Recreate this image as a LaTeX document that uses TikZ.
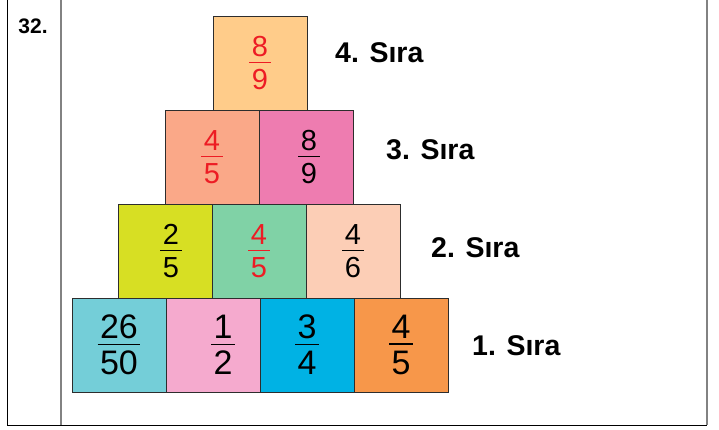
\documentclass[tikz,border=0pt]{standalone}
\usepackage{fontspec}
\setmainfont{Liberation Sans}
\usetikzlibrary{positioning}
\definecolor{BoxLine}{RGB}{45,45,45}
\definecolor{FrameGray}{RGB}{130,130,130}
\definecolor{AnsRed}{RGB}{237,28,36}
\definecolor{TopOrange}{RGB}{255,204,138}
\definecolor{Salmon}{RGB}{250,168,136}
\definecolor{RosePink}{RGB}{238,124,176}
\definecolor{Lime}{RGB}{215,223,35}
\definecolor{Mint}{RGB}{128,210,166}
\definecolor{Peach}{RGB}{252,206,182}
\definecolor{Aqua}{RGB}{116,206,216}
\definecolor{Candy}{RGB}{245,170,206}
\definecolor{Sky}{RGB}{0,178,228}
\definecolor{Tangerine}{RGB}{247,151,74}

% stacked fraction: numerator, bar, denominator
\newcommand{\frc}[2]{%
  {\renewcommand{\arraystretch}{0}\setlength{\arrayrulewidth}{1.6pt}%
  \begin{tabular}{@{\hspace{2.5pt}}c@{\hspace{2.5pt}}}
    #1\rule[-5pt]{0pt}{5pt}\\ \hline
    \rule{0pt}{\dimexpr 0.72em+5pt\relax}#2
  \end{tabular}}}

\begin{document}
\begin{tikzpicture}[x=1pt, y=-1pt,
    box/.style={draw=BoxLine, line width=0.9pt, minimum width=94pt,
                minimum height=94pt, inner sep=0pt,
                font=\fontsize{29}{30}\selectfont},
    big/.style={font=\fontsize{34}{36}\selectfont},
    ans/.style={text=AnsRed},
    sira/.style={anchor=west, inner sep=0pt,
                 font=\bfseries\fontsize{28.5}{30}\selectfont}
  ]
  \useasboundingbox (0,0) rectangle (719,429);

  % frame
  \draw[FrameGray, line width=1.6pt] (61,0) -- (61,425);
  \draw[FrameGray, line width=1.6pt] (707,0) -- (707,425);
  \draw[black, line width=1pt] (7.5,0) -- (7.5,425) -- (707,425);
  \node[inner sep=0pt, font=\bfseries\fontsize{21}{22}\selectfont]
    (q32) at (33,26) {32.};

  % 1. row
  \node[box, big, fill=Aqua]      (b11) at (119,345) {\frc{26}{50}};
  \node[box, big, fill=Candy]     (b12) at (213,345) {\hspace*{20pt}\frc{1}{2}};
  \node[box, big, fill=Sky]       (b13) at (307,345) {\frc{3}{4}};
  \node[box, big, fill=Tangerine] (b14) at (401,345) {\frc{4}{5}};

  % 2. row
  \node[box, fill=Lime]           (b21) at (165,251) {\hspace*{12pt}\frc{2}{5}};
  \node[box, ans, fill=Mint]      (b22) at (259,251) {\frc{4}{5}};
  \node[box, fill=Peach]          (b23) at (353,251) {\frc{4}{6}};

  % 3. row
  \node[box, ans, fill=Salmon]    (b31) at (212,157) {\frc{4}{5}};
  \node[box, fill=RosePink]       (b32) at (306,157) {\hspace*{6pt}\frc{8}{9}};

  % 4. row
  \node[box, ans, fill=TopOrange] (b41) at (260,63)  {\frc{8}{9}};

  \node[sira] (s4) at (335,53)  {4. Sıra};
  \node[sira] (s3) at (386,150) {3. Sıra};
  \node[sira] (s2) at (431,248) {2. Sıra};
  \node[sira] (s1) at (472,346) {1. Sıra};
\end{tikzpicture}
\end{document}
